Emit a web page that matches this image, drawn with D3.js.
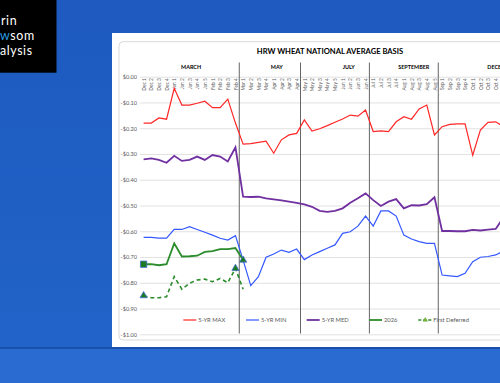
<!DOCTYPE html>
<html><head><meta charset="utf-8">
<script src="https://cdn.jsdelivr.net/npm/d3@7"></script>
<style>
html,body{margin:0;padding:0;width:500px;height:383px;overflow:hidden;background:#1f5cc0;}
svg{display:block;}
</style></head><body>
<svg id="c" width="500" height="383"></svg>
<script>
const categories = ["Dec 1","Dec 2","Dec 3","Dec 4","Jan 1","Jan 2","Jan 3","Jan 4","Jan 5","Feb 1","Feb 2","Feb 3","Feb 4",
  "Mar 1","Mar 2","Mar 3","Mar 4","Apr 1","Apr 2","Apr 3","Apr 4",
  "May 1","May 2","May 3","May 4","May 5","Jun 1","Jun 2","Jun 3","Jun 4",
  "Jul 1","Jul 2","Jul 3","Jul 4","Aug 1","Aug 2","Aug 3","Aug 4","Aug 5",
  "Sep 1","Sep 2","Sep 3","Sep 4","Oct 1","Oct 2","Oct 3","Oct 4","Nov 1"];
const monthNames = ["MARCH","MAY","JULY","SEPTEMBER","DECEMBER"];
const monthStarts = [0,13,21,30,39];
const monthEnds = [12,20,29,38,54];
const yTicks = [0,-0.1,-0.2,-0.3,-0.4,-0.5,-0.6,-0.7,-0.8,-0.9,-1.0];
const yTickLabels = ["$0.00","-$0.10","-$0.20","-$0.30","-$0.40","-$0.50","-$0.60","-$0.70","-$0.80","-$0.90","-$1.00"];
const max5yr = [-0.18,-0.18,-0.16,-0.165,-0.045,-0.11,-0.11,-0.103,-0.095,-0.12,-0.12,-0.087,-0.18,
  -0.262,-0.26,-0.255,-0.25,-0.297,-0.245,-0.226,-0.22,
  -0.168,-0.211,-0.202,-0.19,-0.177,-0.164,-0.149,-0.153,-0.129,
  -0.213,-0.21,-0.213,-0.175,-0.155,-0.165,-0.125,-0.11,-0.226,
  -0.194,-0.185,-0.183,-0.183,-0.305,-0.207,-0.177,-0.175,-0.194];
const min5yr = [-0.624,-0.624,-0.627,-0.627,-0.593,-0.593,-0.582,-0.593,-0.604,-0.615,-0.627,-0.634,-0.617,
  -0.712,-0.811,-0.776,-0.701,-0.688,-0.673,-0.682,-0.669,
  -0.71,-0.692,-0.679,-0.666,-0.653,-0.608,-0.602,-0.58,-0.541,
  -0.58,-0.521,-0.521,-0.541,-0.615,-0.63,-0.64,-0.647,-0.647,
  -0.77,-0.773,-0.776,-0.763,-0.718,-0.701,-0.698,-0.692,-0.677];
const med5yr = [-0.321,-0.317,-0.323,-0.334,-0.307,-0.327,-0.323,-0.31,-0.323,-0.304,-0.31,-0.329,-0.274,
  -0.466,-0.467,-0.466,-0.472,-0.476,-0.48,-0.485,-0.49,
  -0.496,-0.505,-0.521,-0.525,-0.521,-0.511,-0.489,-0.472,-0.453,
  -0.479,-0.502,-0.485,-0.475,-0.511,-0.499,-0.5,-0.495,-0.468,
  -0.599,-0.599,-0.6,-0.6,-0.595,-0.597,-0.594,-0.591,-0.548];
const y2026 = [-0.728,-0.728,-0.732,-0.728,-0.647,-0.698,-0.697,-0.695,-0.68,-0.677,-0.669,-0.669,-0.665,-0.712];
const firstDeferred = [-0.85,-0.858,-0.858,-0.854,-0.776,-0.825,-0.802,-0.789,-0.786,-0.796,-0.783,-0.8,-0.744,-0.825];
const squareMarkers2026 = [0];
const triangleMarkers2026 = [13];
const triangleMarkersDeferred = [0,12];
const seriesNames = ["5-YR MAX","5-YR MIN","5-YR MED","2026","First Deferred"];

const FONT = "Lato, 'Open Sans', sans-serif";
const C = {max:"#ff2626", min:"#3458ff", med:"#7030a0", g:"#2a8c2a", mk:"#1e7a1e", mkStroke:"#3f6fd0"};
const W = 500;

const svg = d3.select("#c");
const defs = svg.append("defs");
const bg = defs.append("linearGradient").attr("id","bg").attr("x1",0).attr("y1",0).attr("x2",0).attr("y2",1);
bg.append("stop").attr("offset","0%").attr("stop-color","#1e5ac0");
bg.append("stop").attr("offset","100%").attr("stop-color","#2164c8");
svg.append("rect").attr("width",W).attr("height",383).attr("fill","url(#bg)");
svg.append("rect").attr("x",0).attr("y",349).attr("width",W).attr("height",34).attr("fill","#2a6bd2");
svg.append("rect").attr("x",0).attr("y",347).attr("width",W).attr("height",2).attr("fill","#1a4fae");

// logo
svg.append("rect").attr("x",0).attr("y",0).attr("width",56.5).attr("height",72.7).attr("fill","#000");
const logo = svg.append("g").attr("font-family",FONT).attr("font-weight",400).attr("font-size",12.4)
  .attr("letter-spacing",0.6).attr("fill","#fff");
logo.append("text").attr("x",1).attr("y",25).text("rin");
const l2 = logo.append("text").attr("x",0).attr("y",40);
l2.append("tspan").attr("fill","#2a9be0").text("w");
l2.append("tspan").text("som");
logo.append("text").attr("x",0).attr("y",55).text("alysis");

// panel
svg.append("rect").attr("x",112).attr("y",33).attr("width",400).attr("height",314).attr("fill","#fff");
svg.append("rect").attr("x",119).attr("y",41.7).attr("width",400).attr("height",298.3).attr("rx",4)
  .attr("fill","none").attr("stroke","#d9d9d9").attr("stroke-width",1);

const x = d3.scalePoint().domain(categories).range([143.6, 143.6 + 7.654*(categories.length-1)]);
const y = d3.scaleLinear().domain([-1,0]).range([334.3,76.7]);
const step = x.step();

// gridlines
const grid = svg.append("g").attr("transform","translate(140,0)")
  .call(d3.axisLeft(y).tickValues(yTicks).tickSize(-400).tickFormat(""));
grid.select(".domain").remove();
grid.selectAll("line").attr("stroke","#d9d9d9").attr("stroke-width",0.8);

// y labels
const ya = svg.append("g").attr("transform","translate(137,0)")
  .call(d3.axisLeft(y).tickValues(yTicks).tickSize(0).tickPadding(0).tickFormat((d,i)=>yTickLabels[i]));
ya.select(".domain").remove();
ya.selectAll("text").attr("font-family",FONT).attr("font-size",5.6).attr("fill","#595959");

// x labels (only those inside the visible window)
const xa = svg.append("g").attr("transform",`translate(0,${y(0)})`)
  .call(d3.axisBottom(x).tickValues(categories.filter(c=>x(c) < W - 2)).tickSize(0));
xa.select(".domain").remove();
xa.selectAll("text").attr("font-family",FONT).attr("font-size",4.8).attr("fill","#595959")
  .attr("transform","rotate(-90)").attr("text-anchor","end").attr("x",-1.5).attr("y",0).attr("dy","0.35em");

// title
svg.append("text").attr("x",330).attr("y",53.5).attr("text-anchor","middle")
  .attr("font-family",FONT).attr("font-weight",700).attr("font-size",7.6).attr("fill","#000")
  .text("HRW WHEAT NATIONAL AVERAGE BASIS");

// month labels & separators
const monthLabelShift = [0.2, 0.9, 1.8, 1.3, 0.3];
monthNames.forEach((m,i)=>{
  const a = x(categories[0]) + step*(monthStarts[i]-0.5);
  const b = x(categories[0]) + step*(monthEnds[i]+0.5);
  svg.append("text").attr("x",(a+b)/2 + step*monthLabelShift[i]).attr("y",69.3).attr("text-anchor","middle")
    .attr("font-family",FONT).attr("font-weight",700).attr("font-size",5.4).attr("fill","#000").text(m);
  if (i < monthNames.length-1) {
    svg.append("line").attr("x1",b).attr("x2",b).attr("y1",62.5).attr("y2",333.5)
      .attr("stroke","#666").attr("stroke-width",1);
  }
});

const line = d3.line().x((d,i)=>x(categories[i])).y(d=>y(d));
const plot = svg.append("g");
plot.append("path").datum(max5yr).attr("d",line).attr("fill","none").attr("stroke",C.max).attr("stroke-width",1.2);
plot.append("path").datum(min5yr).attr("d",line).attr("fill","none").attr("stroke",C.min).attr("stroke-width",1.2);
plot.append("path").datum(med5yr).attr("d",line).attr("fill","none").attr("stroke",C.med).attr("stroke-width",1.8);
plot.append("path").datum(firstDeferred).attr("d",line).attr("fill","none").attr("stroke",C.g).attr("stroke-width",1.6).attr("stroke-dasharray","4,3");
plot.append("path").datum(y2026).attr("d",line).attr("fill","none").attr("stroke",C.g).attr("stroke-width",1.8);

const tri = d3.symbol().type(d3.symbolTriangle).size(22);
const sq = d3.symbol().type(d3.symbolSquare).size(40);
squareMarkers2026.forEach(i=>plot.append("path").attr("d",sq).attr("transform",`translate(${x(categories[i])},${y(y2026[i])})`)
  .attr("fill",C.mk).attr("stroke",C.mkStroke).attr("stroke-width",0.8));
triangleMarkers2026.forEach(i=>plot.append("path").attr("d",tri).attr("transform",`translate(${x(categories[i])},${y(y2026[i])})`)
  .attr("fill",C.mk).attr("stroke",C.mkStroke).attr("stroke-width",0.8));
triangleMarkersDeferred.forEach(i=>plot.append("path").attr("d",tri).attr("transform",`translate(${x(categories[i])},${y(firstDeferred[i])})`)
  .attr("fill",C.mk).attr("stroke",C.mkStroke).attr("stroke-width",0.8));

// legend
const legX = [183.3, 246, 306.7, 369, 418.3];
const legStyle = [
  {c:C.max,w:1.2,d:null},{c:C.min,w:1.2,d:null},{c:C.med,w:1.8,d:null},{c:C.g,w:1.8,d:null},{c:C.g,w:1.5,d:"3,2"}];
const leg = svg.append("g").attr("font-family",FONT).attr("font-size",5.8).attr("fill","#595959");
seriesNames.forEach((n,i)=>{
  const g = leg.append("g").attr("transform",`translate(${legX[i]},320)`);
  g.append("line").attr("x1",0).attr("x2",13).attr("y1",0).attr("y2",0).attr("stroke",legStyle[i].c)
    .attr("stroke-width",legStyle[i].w).attr("stroke-dasharray",legStyle[i].d);
  if (i===4) g.append("path").attr("d",d3.symbol().type(d3.symbolTriangle).size(8)).attr("transform","translate(7,0)")
    .attr("fill","#8dbb2a").attr("stroke",C.g).attr("stroke-width",0.4);
  g.append("text").attr("x",15).attr("y",0).attr("dy","0.35em").text(n);
});
</script>
</body></html>
